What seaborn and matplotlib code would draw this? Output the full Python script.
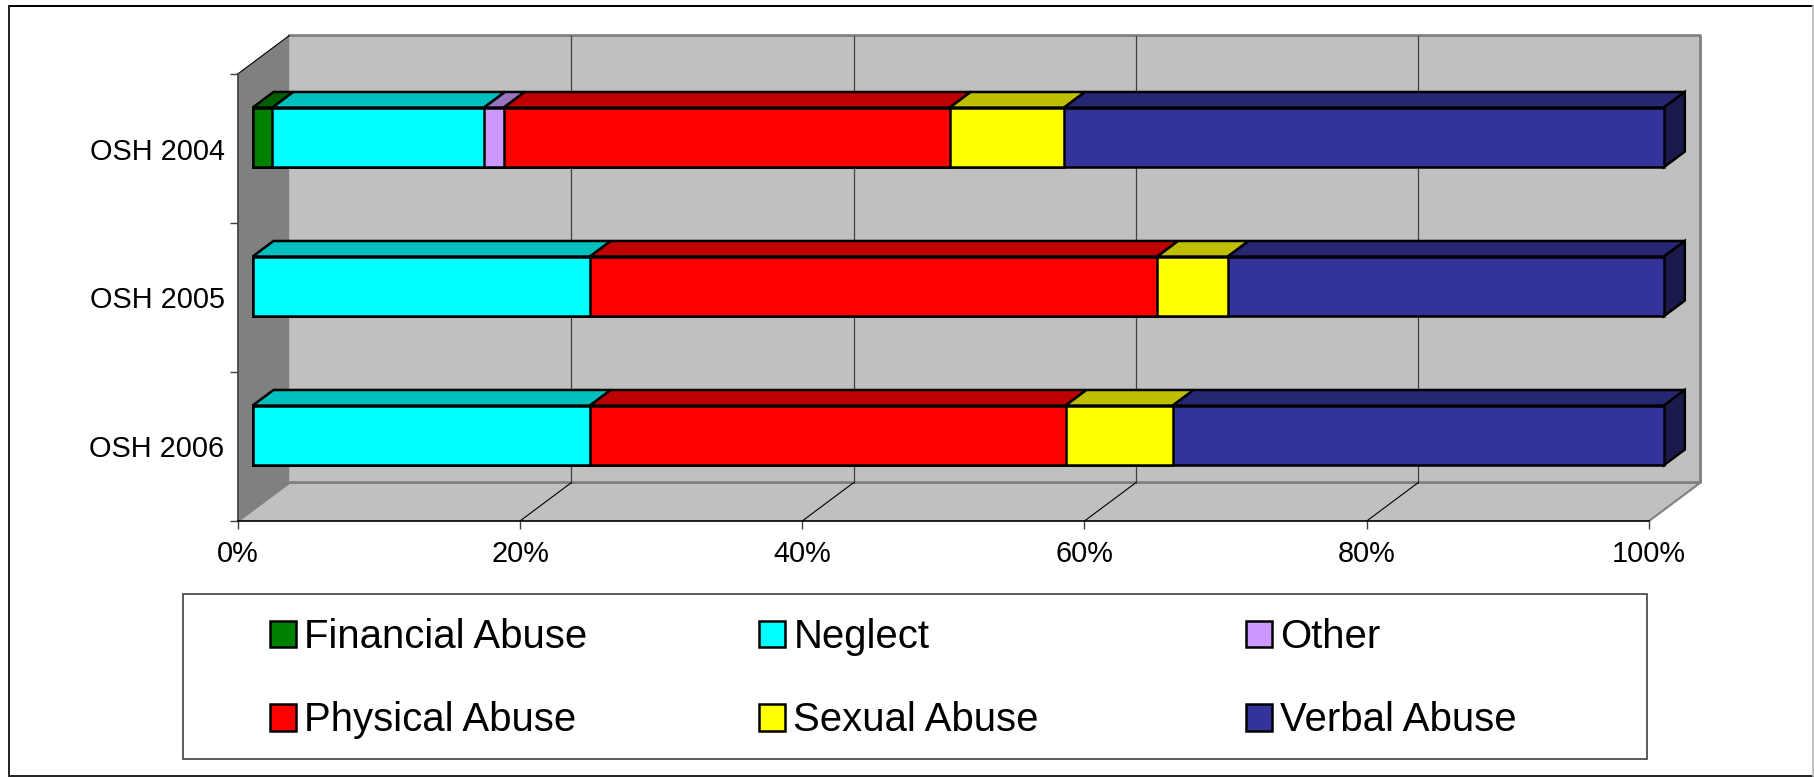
"""
plot.py

Stacked 100% horizontal bars with an Excel style 3D look.
"""

import matplotlib
matplotlib.use("Agg")
import matplotlib.pyplot as plt
from matplotlib.lines import Line2D
from matplotlib.patches import Patch, Polygon, Rectangle
import numpy as np
import pandas as pd
import seaborn as sns

# -----------------------------
# Data
# -----------------------------
categories = ["OSH 2004", "OSH 2005", "OSH 2006"]
financial = [1.4, 0.0, 0.0]
neglect = [15.0, 23.9, 23.9]
other = [1.4, 0.0, 0.0]
physical = [31.6, 40.2, 33.7]
sexual = [8.1, 5.0, 7.6]
verbal = [42.5, 30.9, 34.8]

series_names = ["Financial Abuse", "Neglect", "Other", "Physical Abuse", "Sexual Abuse", "Verbal Abuse"]
series_values = [financial, neglect, other, physical, sexual, verbal]
face_colors = ["#008000", "#00FFFF", "#CC99FF", "#FF0000", "#FFFF00", "#333399"]
top_colors = ["#006000", "#00BFBF", "#9973BF", "#BF0000", "#BFBF00", "#262673"]
side_color = "#1A1A4D"
x_ticks = [0, 20, 40, 60, 80, 100]

# depth of the 3D box in data units, and where the bars sit in it
DEPTH_X = 3.65
DEPTH_Y = 0.258
BAR_FRONT = 0.29
BAR_BACK = 0.695
BAR_WIDTH = 0.4
BAR_EDGE = 1.8
W, H = 1814, 777

sns.set_theme(style="white")
plt.rcParams["font.family"] = ["Liberation Sans", "DejaVu Sans"]


def shift(x, y, d):
    return (x + DEPTH_X * d, y - DEPTH_Y * d)


def draw_box(ax):
    y_low, y_high = 2.5, -0.5
    wall = "#C0C0C0"
    border = "#808080"

    back = [shift(0, y_low, 1), shift(100, y_low, 1), shift(100, y_high, 1), shift(0, y_high, 1)]
    floor = [(0, y_low), (100, y_low), shift(100, y_low, 1), shift(0, y_low, 1)]
    left = [(0, y_low), (0, y_high), shift(0, y_high, 1), shift(0, y_low, 1)]

    for pts, col in [(back, wall), (floor, wall), (left, "#808080")]:
        ax.add_patch(Polygon(pts, closed=True, facecolor=col, edgecolor="none", zorder=1, clip_on=False))

    # grey outline of the back wall and floor
    outline = [(0, y_low), shift(0, y_low, 1), shift(100, y_low, 1), shift(100, y_high, 1), shift(0, y_high, 1)]
    ax.plot(*zip(*outline), color=border, lw=2.0, zorder=1.5, clip_on=False)
    ax.plot(*zip((100, y_low), shift(100, y_low, 1)), color=border, lw=1.5, zorder=1.5, clip_on=False)
    ax.plot(*zip((0, y_high), shift(0, y_high, 1)), color="black", lw=0.8, zorder=1.6, clip_on=False)

    # gridlines: up the back wall and across the floor
    for t in x_ticks[1:-1]:
        bx, by = shift(t, y_low, 1)
        tx, ty = shift(t, y_high, 1)
        ax.plot([bx, tx], [by, ty], color="#404040", lw=0.9, zorder=1.7, clip_on=False)
        ax.plot([t, bx], [y_low, by], color="black", lw=0.8, zorder=1.7, clip_on=False)


def draw_bars(ax, df):
    # cumulative bars, longest first, so each one covers the part it shares with the next
    for name, col in reversed(list(zip(series_names, face_colors))):
        sub = df[(df["series"] == name) & (df["value"] > 0)]
        sns.barplot(
            data=sub, x="end", y="category", order=categories, color=col, saturation=1,
            width=BAR_WIDTH, orient="h", errorbar=None, edgecolor="black", linewidth=BAR_EDGE,
            zorder=4, clip_on=False, ax=ax,
        )

    # push the front faces into the box
    for p in ax.patches:
        if isinstance(p, Rectangle):
            p.set_x(p.get_x() + DEPTH_X * BAR_FRONT)
            p.set_y(p.get_y() - DEPTH_Y * BAR_FRONT)

    # top faces and the end cap
    for row in df[df["value"] > 0].itertuples():
        i = categories.index(row.category)
        y_top = i - BAR_WIDTH / 2
        y_bot = i + BAR_WIDTH / 2
        top_face = [shift(row.start, y_top, BAR_FRONT), shift(row.end, y_top, BAR_FRONT),
                    shift(row.end, y_top, BAR_BACK), shift(row.start, y_top, BAR_BACK)]
        ax.add_patch(Polygon(top_face, closed=True, facecolor=row.top, edgecolor="black",
                             lw=BAR_EDGE, zorder=3, clip_on=False, joinstyle="miter"))
        if row.series == series_names[-1]:
            side_face = [shift(row.end, y_top, BAR_FRONT), shift(row.end, y_top, BAR_BACK),
                         shift(row.end, y_bot, BAR_BACK), shift(row.end, y_bot, BAR_FRONT)]
            ax.add_patch(Polygon(side_face, closed=True, facecolor=side_color, edgecolor="black",
                                 lw=BAR_EDGE, zorder=3, clip_on=False, joinstyle="miter"))


def draw_legend(fig):
    fig.add_artist(Rectangle((182.7 / W, 1 - 759 / H), (1646.7 - 182.7) / W, (759 - 593.7) / H,
                             transform=fig.transFigure, facecolor="white", edgecolor="#404040", lw=1.2))
    columns = [(0, 3, 269.5), (1, 4, 758.5), (2, 5, 1245.5)]
    for a, b, px in columns:
        handles = [Patch(facecolor=face_colors[k], edgecolor="black", lw=1.8, label=series_names[k]) for k in (a, b)]
        fig.legend(
            handles=handles, loc="upper left", bbox_to_anchor=(px / W, 1 - 618 / H),
            bbox_transform=fig.transFigure, frameon=False, fontsize=28.9, borderpad=0, borderaxespad=0,
            labelspacing=1.13, handlelength=0.65, handleheight=0.65, handletextpad=0.22, labelcolor="black",
        )


def draw_frame(fig):
    # outer frame: dark on three sides, faint on the right
    edges = [
        ([9, 1813], [6, 6], "black"),
        ([9, 1813], [775.5, 775.5], "#202020"),
        ([9, 9], [6, 775.5], "#202020"),
        ([1813, 1813], [6, 775.5], "#C0C0C0"),
    ]
    for xs, ys, col in edges:
        fig.add_artist(Line2D([x / W for x in xs], [1 - y / H for y in ys], color=col, lw=1.4,
                              transform=fig.transFigure))


def main():
    values = np.array(series_values)
    ends = values.cumsum(axis=0)
    rows = []
    for s, name in enumerate(series_names):
        for c, cat in enumerate(categories):
            rows.append({
                "series": name, "category": cat, "value": values[s, c],
                "start": ends[s, c] - values[s, c], "end": ends[s, c], "top": top_colors[s],
            })
    df = pd.DataFrame(rows)

    fig = plt.figure(figsize=(W / 100, H / 100), dpi=100)
    ax = fig.add_axes([237.7 / W, 1 - 521 / H, (1649 - 237.7) / W, (521 - 74) / H])
    ax.patch.set_visible(False)

    draw_bars(ax, df)
    draw_box(ax)

    ax.set_xlim(0, 100)
    ax.set_ylim(2.5, -0.5)
    ax.set_xlabel("")
    ax.set_ylabel("")

    ax.set_xticks(x_ticks)
    ax.set_xticklabels([f"{t}%" for t in x_ticks], fontsize=20.8, color="black")
    ax.set_yticks([-0.5, 0.5, 1.5, 2.5])
    ax.set_yticklabels([])
    ax.set_yticks(range(len(categories)), minor=True)
    ax.set_yticklabels(categories, minor=True, fontsize=20.8, color="black")
    ax.tick_params(axis="x", which="major", length=6, width=1, color="#404040", pad=8, bottom=True)
    ax.tick_params(axis="y", which="major", length=6, width=1, color="#404040", left=True)
    ax.tick_params(axis="y", which="minor", length=0, pad=9.5)

    for side in ["top", "right"]:
        ax.spines[side].set_visible(False)
    ax.spines["bottom"].set_color("black")
    ax.spines["left"].set_color("#404040")
    for side in ["bottom", "left"]:
        ax.spines[side].set_linewidth(1.2)
        ax.spines[side].set_zorder(2)

    draw_legend(fig)
    draw_frame(fig)

    fig.savefig("out.png", dpi=100)
    plt.close(fig)


if __name__ == "__main__":
    main()
